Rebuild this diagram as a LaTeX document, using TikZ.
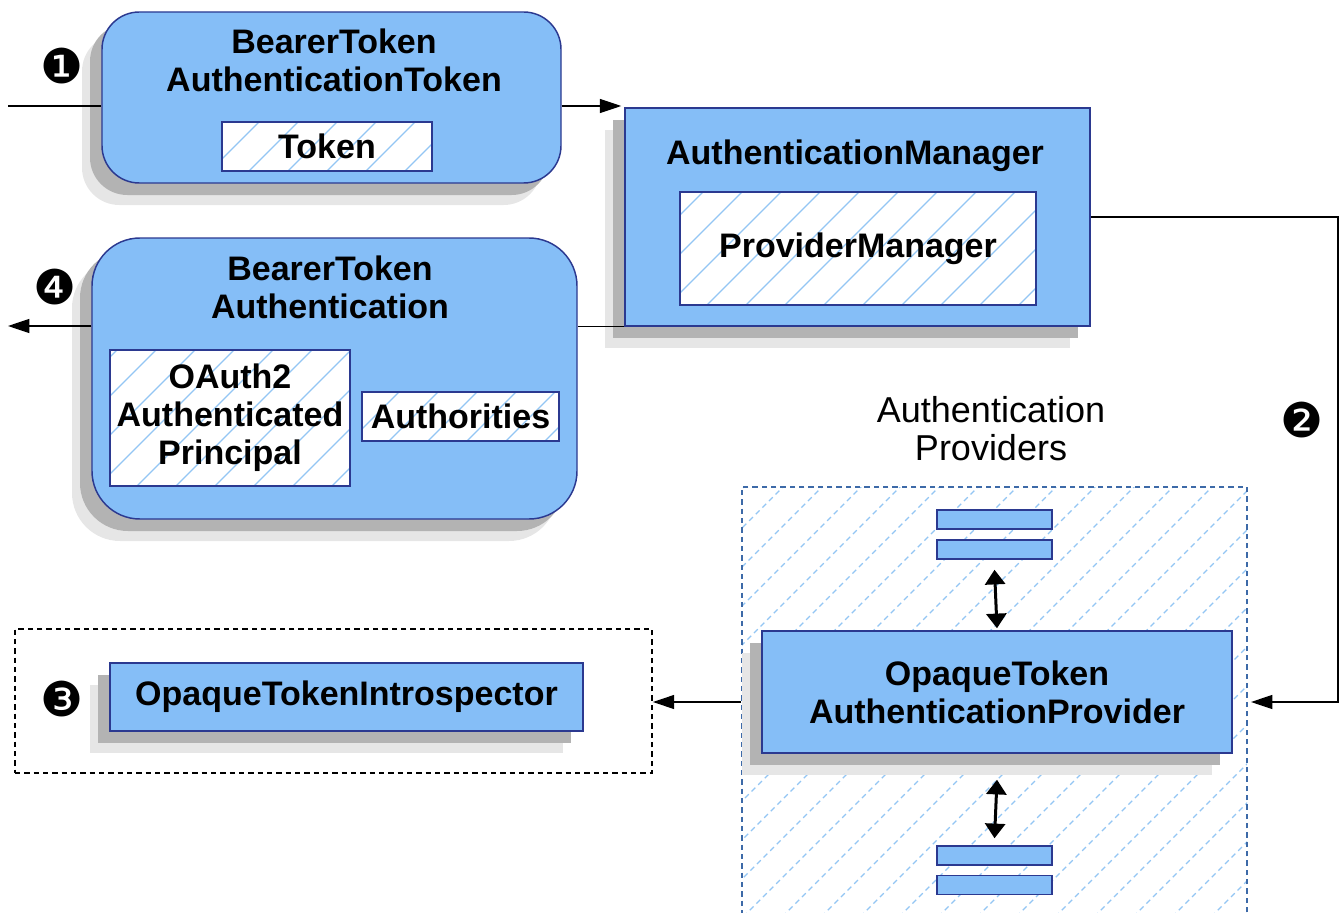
\documentclass[tikz,border=0pt]{standalone}
\usepackage{fontspec}
\setmainfont{Liberation Sans}
\newfontfamily\dingfont{DejaVu Sans}
\usetikzlibrary{arrows.meta,shadows}
\definecolor{boxblue}{HTML}{85BEF7}
\definecolor{boxborder}{HTML}{2B3990}
\definecolor{hatchblue}{HTML}{93C6F4}
\definecolor{dashblue}{HTML}{3D6AA8}
\definecolor{shadowdark}{HTML}{B3B3B3}
\definecolor{shadowlight}{HTML}{E6E6E6}
\begin{document}
\begin{tikzpicture}[x=0.75pt,y=-0.75pt,
  bluebox/.style={draw=boxborder, fill=boxblue, line width=1.1pt, inner sep=0pt},
  shadowed/.style={general shadow={fill=shadowlight, shadow xshift=-15pt, shadow yshift=-16.5pt},
                   general shadow={fill=shadowdark, shadow xshift=-9pt, shadow yshift=-9pt}},
  hatched/.style={path picture={\foreach \k in {-480,-441,...,540}{\draw[hatchblue, line width=0.95pt] ([xshift=\k*0.75pt]path picture bounding box.south west) -- ++(600,-600);}}},
  hatchbox/.style={draw=boxborder, fill=white, line width=1.5pt, inner sep=0pt, hatched},
  smallbox/.style={draw=boxborder, fill=boxblue, line width=1.1pt, inner sep=0pt, minimum width=115*0.75pt, minimum height=19*0.75pt},
  lbl/.style={font=\fontsize{25.5}{28.5}\selectfont\bfseries, align=center, inner sep=0pt},
  plainlbl/.style={font=\fontsize{27}{28.5}\selectfont, align=center, inner sep=0pt},
  num/.style={font=\dingfont\fontsize{36}{36}\selectfont, inner sep=0pt},
  conn/.style={line width=1pt},
  arr/.style={line width=1pt, -{Triangle[length=16pt,width=10.5pt]}},
  darr/.style={line width=2.25pt, {Triangle[length=11pt,width=15pt]}-{Triangle[length=11pt,width=15pt]}}
]
\useasboundingbox (0,0) rectangle (1341,913);
% boxes
\node[bluebox, shadowed, rounded corners=28pt, minimum width=459*0.75pt, minimum height=171*0.75pt] (tok) at (331.5,97.5) {};
\node[hatchbox, minimum width=210*0.75pt, minimum height=49*0.75pt] (tokin) at (327,146.5) {};
\node[lbl] (tokt) at (334,60) {BearerToken\\AuthenticationToken};
\node[lbl] (tokint) at (tokin) {Token};

\node[bluebox, shadowed, minimum width=465*0.75pt, minimum height=218*0.75pt] (mgr) at (857.5,217) {};
\node[hatchbox, minimum width=356*0.75pt, minimum height=113*0.75pt] (pm) at (858,248.5) {};
\node[lbl] (mgrt) at (855,156) {AuthenticationManager};
\node[lbl] (pmt) at (pm) {ProviderManager};

\node[bluebox, shadowed, rounded corners=36pt, minimum width=485*0.75pt, minimum height=281*0.75pt] (auth) at (334.5,378.5) {};
\node[hatchbox, minimum width=240*0.75pt, minimum height=136*0.75pt] (oauth) at (230,418) {};
\node[hatchbox, minimum width=197*0.75pt, minimum height=49*0.75pt] (authz) at (460.5,416.5) {};
\node[lbl] (autht) at (330,287) {BearerToken\\Authentication};
\node[lbl] (oautht) at (oauth) {OAuth2\\Authenticated\\Principal};
\node[lbl] (authzt) at (authz) {Authorities};

\node[plainlbl] (provt) at (991,429) {Authentication\\Providers};
\node[hatchbox, draw=dashblue, dash pattern=on 4pt off 3pt, minimum width=505*0.75pt, minimum height=443*0.75pt] (prov) at (994.5,708.5) {};
\node[smallbox] (sb1) at (994.5,519.5) {};
\node[smallbox] (sb2) at (994.5,549.5) {};
\node[smallbox] (sb3) at (994.5,855.5) {};
\node[smallbox] (sb4) at (994.5,885) {};
\node[bluebox, shadowed, minimum width=470*0.75pt, minimum height=122*0.75pt] (opq) at (997,692) {};
\node[lbl] (opqt) at (opq) {OpaqueToken\\AuthenticationProvider};

\node[draw=black, line width=1.3pt, dash pattern=on 4pt off 3pt, minimum width=637*0.75pt, minimum height=144*0.75pt, inner sep=0pt] (introbox) at (333.5,701) {};
\node[bluebox, shadowed, minimum width=473*0.75pt, minimum height=68*0.75pt] (intro) at (346.5,697) {};
\node[lbl] (introt) at (intro) {OpaqueTokenIntrospector};

% numbers
\node[num] (n1) at (62,66) {❶};
\node[num] (n2) at (1302,420) {❷};
\node[num] (n3) at (62,699) {❸};
\node[num] (n4) at (55,287) {❹};

% connectors
\coordinate (in) at (8,106);
\draw[conn] (in) -- (in -| tok.west);
\draw[arr] (tok.east |- in) -- ([xshift=-2.25pt]mgr.west |- in);
\coordinate (c2) at (1338,702);
\draw[arr] (mgr.east) -| (c2) -- ([xshift=2.25pt]prov.east |- c2);
\draw[arr] (prov.west |- c2) -- (introbox.east |- c2);
\coordinate (out) at (8,326);
\draw[conn] (mgr.south west) -- (auth.east |- mgr.south west);
\draw[arr] (auth.west |- out) -- (out);
\draw[darr] ([yshift=-7.5pt]sb2.south) -- ([yshift=1.5pt]opq.north);
\draw[darr] ([yshift=-19.5pt]opq.south) -- ([yshift=5.25pt]sb3.north);
\end{tikzpicture}
\end{document}
